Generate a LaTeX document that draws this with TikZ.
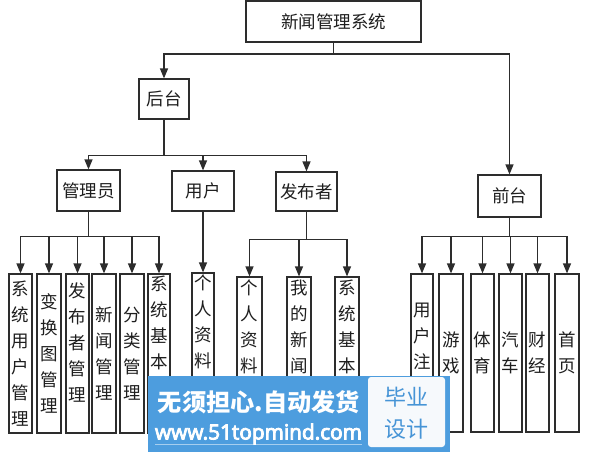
\documentclass[tikz,border=0pt]{standalone}
\usepackage{fontspec}
\usepackage{graphicx}
\newfontfamily\cjk{Noto Sans CJK SC}
\newfontfamily\latinb{Open Sans}[FakeBold=4]
\usetikzlibrary{arrows.meta}
\definecolor{ln}{RGB}{45,45,45}
\definecolor{txt}{RGB}{30,30,30}
\definecolor{bannerblue}{RGB}{77,157,222}
\definecolor{badgeblue}{RGB}{70,148,214}
\definecolor{badgebg}{RGB}{246,249,252}
\begin{document}
\begin{tikzpicture}[x=1pt,y=-1pt,
  box/.style={draw=ln,line width=1.2pt,fill=white,inner sep=0pt,text=txt,font=\cjk\fontsize{17.5}{20}\selectfont},
  vbox/.style={draw=ln,line width=1.2pt,fill=white,inner sep=0pt,minimum height=159pt,text=txt,align=center,font=\cjk\fontsize{17.5}{26}\selectfont},
  vtext/.style={inner sep=0pt,anchor=north,text=txt,align=center,font=\cjk\fontsize{17.5}{26}\selectfont},
  conn/.style={draw=ln,line width=1.2pt},
  arr/.style={conn,-{Triangle[length=10pt,width=8pt]}}]
\useasboundingbox (0,0) rectangle (596,452);
\fill[white] (0,0) rectangle (596,452);

% level 0-2
\node[box,minimum width=175pt,minimum height=41pt] (top) at (333.5,21.5) {新闻管理系统};
\node[box,minimum width=50pt,minimum height=40pt] (houtai) at (164,99) {后台};
\node[box,minimum width=63pt,minimum height=42pt] (qiantai) at (509.5,196) {前台};
\node[box,minimum width=63pt,minimum height=41pt] (gly) at (88.5,190.5) {管理员};
\node[box,minimum width=62pt,minimum height=40pt] (yonghu) at (203,191) {用户};
\node[box,minimum width=61pt,minimum height=39pt] (fbz) at (306.5,191.5) {发布者};

% admin children
\node[vbox,minimum width=23pt] (a1) at (20.5,353.5) {系\\统\\用\\户\\管\\理};
\node[vbox,minimum width=24pt] (a2) at (49,353.5) {变\\换\\图\\管\\理};
\node[vbox,minimum width=23pt] (a3) at (77.5,353.5) {};
\node[vtext] (a3t) at (77.5,283) {发\\布\\者\\管\\理};
\node[vbox,minimum width=24pt] (a4) at (104,353.5) {新\\闻\\管\\理};
\node[vbox,minimum width=24pt] (a5) at (132,353.5) {分\\类\\管\\理};
\node[vbox,minimum width=22pt] (a6) at (159,353.5) {};
\node[vtext] (a6t) at (159,276) {系\\统\\基\\本};

% user child
\node[vbox,minimum width=22pt,minimum height=160pt] (u1) at (203,353) {};
\node[vtext] (u1t) at (203,275) {个\\人\\资\\料};

% publisher children
\node[vbox,minimum width=25pt,minimum height=156pt] (f1) at (249.5,355) {};
\node[vtext] (f1t) at (249.5,280) {个\\人\\资\\料};
\node[vbox,minimum width=24pt,minimum height=156pt] (f2) at (299,355) {};
\node[vtext] (f2t) at (299,280) {我\\的\\新\\闻};
\node[vbox,minimum width=24pt,minimum height=156pt] (f3) at (347,355) {};
\node[vtext] (f3t) at (347,280) {系\\统\\基\\本};

% front children
\node[vbox,minimum width=22pt,minimum height=158pt] (q1) at (422,353) {};
\node[vtext] (q1t) at (422,303) {用\\户\\注};
\node[vbox,minimum width=24pt,minimum height=158pt] (q2) at (451,353) {游\\戏};
\node[vbox,minimum width=23pt,minimum height=158pt] (q3) at (482.5,353) {体\\育};
\node[vbox,minimum width=23pt,minimum height=158pt] (q4) at (510.5,353) {汽\\车};
\node[vbox,minimum width=23pt,minimum height=158pt] (q5) at (537.5,353) {财\\经};
\node[vbox,minimum width=24pt,minimum height=158pt] (q6) at (567,353) {首\\页};

% connectors
\draw[conn] (top.south) -- ++(0,11.5) coordinate (j1);
\draw[arr] (j1) -| (houtai.north);
\draw[arr] (j1) -| (qiantai.north);

\draw[conn] (houtai.south) -- ++(0,36) coordinate (j2);
\draw[arr] (j2) -| (gly.north);
\draw[arr] (j2) -| (yonghu.north);
\draw[arr] (j2) -| (fbz.north);

\draw[conn] (gly.south) -- ++(0,25) coordinate (j3);
\foreach \c in {a1,a2,a3,a4,a5,a6} \draw[arr] (j3) -| (\c.north);

\draw[arr] (yonghu.south) -- (u1.north);

\draw[conn] (fbz.south) -- ++(0,28) coordinate (j4);
\foreach \c in {f1,f2,f3} \draw[arr] (j4) -| (\c.north);

\draw[conn] (qiantai.south) -- ++(0,19) coordinate (j5);
\foreach \c in {q1,q2,q3,q4,q5,q6} \draw[arr] (j5) -| (\c.north);

% watermark banner
\fill[bannerblue] (148,376) rectangle (450,452);
\node[fill=badgebg,rounded corners=3pt,minimum width=77pt,minimum height=70pt,inner sep=0pt] (badge) at (406.5,412) {};
\node[text=badgeblue,font=\cjk\fontsize{22}{32}\selectfont,align=center,inner sep=0pt] (badgetxt) at (406.5,413) {毕业\\设计};
\node[text=white,font=\cjk\bfseries,inner sep=0pt] (slogan) at (259,402) {\resizebox{202pt}{!}{无须担心.自动发货}};
\node[text=white,inner sep=0pt] (site) at (258.5,434) {\resizebox{207pt}{!}{\latinb www.51topmind.com}};
\draw[white,opacity=0.5,line width=0.8pt] (155,444) -- (362,444);
\end{tikzpicture}
\end{document}
